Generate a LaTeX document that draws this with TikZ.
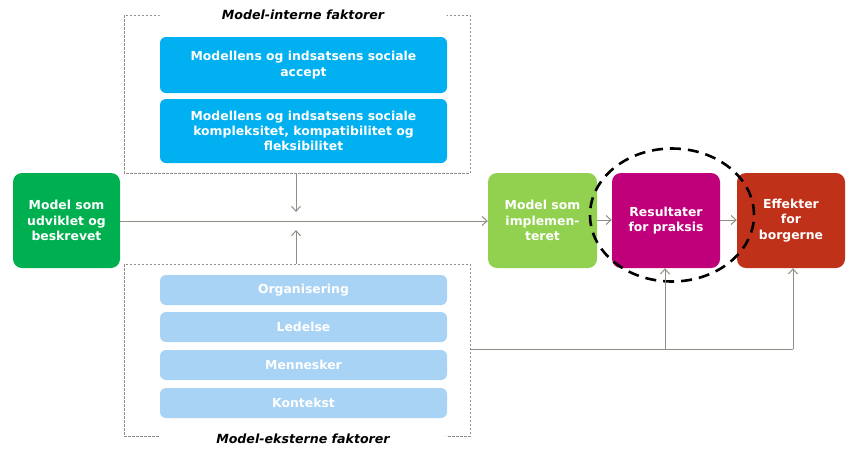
\documentclass[tikz,border=0pt]{standalone}
\usepackage{fontspec}
\setmainfont{DejaVu Sans}
\usetikzlibrary{arrows.meta,shapes.geometric}
\definecolor{cblue}{HTML}{00B0F0}
\definecolor{clight}{HTML}{A9D3F5}
\definecolor{cgreen}{HTML}{00B050}
\definecolor{clgreen}{HTML}{92D050}
\definecolor{cmag}{HTML}{C0007A}
\definecolor{cred}{HTML}{C0311A}
\definecolor{cgray}{HTML}{8F8F85}
\tikzset{
  box/.style={rounded corners=9pt, text=white, font=\bfseries\fontsize{12.4}{15.2}\selectfont, align=center, inner sep=0pt},
  fbox/.style={box, fill=#1, minimum width=108pt, minimum height=95pt},
  ibox/.style={box, fill=cblue, minimum width=287pt, rounded corners=6pt},
  ebox/.style={box, fill=clight, minimum width=287pt, minimum height=30pt, rounded corners=6pt},
  frame/.style={draw=cgray, dash pattern=on 2.5pt off 1.5pt, line width=1pt},
  conn/.style={draw=cgray, line width=1pt, -{Straight Barb[length=5pt,width=9pt]}},
  plain/.style={draw=cgray, line width=1pt},
  ttl/.style={fill=white, rounded corners=6pt, minimum width=287pt, minimum height=22pt, font=\bfseries\itshape\fontsize{12.6}{14}\selectfont, inner sep=0pt}
}
\begin{document}
\begin{tikzpicture}[x=1pt,y=-1pt]
\useasboundingbox[fill=white] (0,0) rectangle (852,448);
% frames
\draw[frame] (124,15) rectangle (470,173);
\draw[frame] (124,264) rectangle (470,436);
\node[ttl] (tint) at (303,15) {Model-interne faktorer};
\node[ttl] (text) at (303,439) {Model-eksterne faktorer};
\coordinate (fint) at (296,173);
\coordinate (fext) at (296,264);
\coordinate (fextr) at (470,349);
% internal
\node[ibox, minimum height=56pt] (i1) at (303.5,65) {Modellens og indsatsens sociale\\accept};
\node[ibox, minimum height=64pt] (i2) at (303.5,131) {Modellens og indsatsens sociale\\kompleksitet, kompatibilitet og\\fleksibilitet};
% external
\node[ebox] (e1) at (303.5,290) {Organisering};
\node[ebox] (e2) at (303.5,327) {Ledelse};
\node[ebox] (e3) at (303.5,365) {Mennesker};
\node[ebox] (e4) at (303.5,403) {Kontekst};
% flow
\node[fbox=cgreen, minimum width=107pt] (m1) at (66.5,220.5) {Model som\\udviklet og\\beskrevet};
\node[fbox=clgreen, minimum width=109pt] (m2) at (542.5,220.5) {Model som\\implemen-\\teret};
\node[fbox=cmag] (m3) at (666,220.5) {Resultater\\for praksis};
\node[fbox=cred] (m4) at (791,220.5) {Effekter\\for\\borgerne};
% ellipse
\node[draw=black, dash pattern=on 11pt off 7pt, line width=2.6pt, ellipse, minimum width=164pt, minimum height=133pt, inner sep=0pt] (ell) at (672,215) {};
% connectors
\draw[conn] (m1.east |- 0,221) -- (m2.west |- 0,221);
\draw[conn] (fint) -- (296,212);
\draw[conn] (fext) -- (296,230);
\draw[conn] (m2.east |- 0,220) -- (m3.west |- 0,220);
\draw[conn] (m3.east |- 0,220) -- (m4.west |- 0,220);
\coordinate (jn) at (665,349);
\coordinate (jr) at (793,349);
\draw[plain] (fextr) -- (jr);
\draw[conn] (jn) -- (jn |- m3.south);
\draw[conn] (jr) -- (jr |- m4.south);
\end{tikzpicture}
\end{document}
